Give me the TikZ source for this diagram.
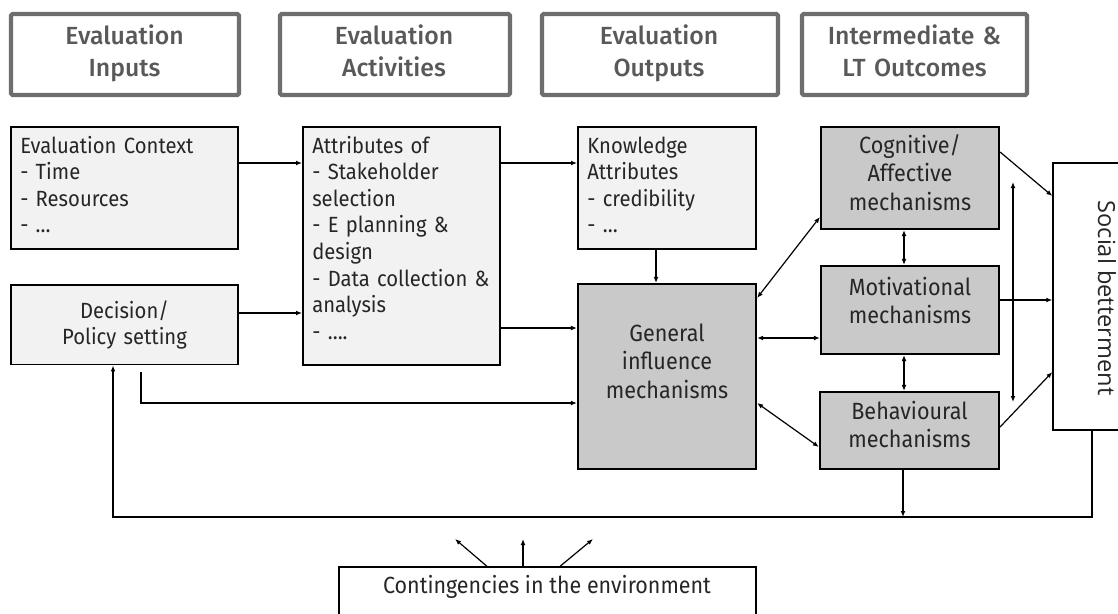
\documentclass[tikz,border=0pt]{standalone}
\usepackage{fontspec}
\setmainfont{Fira Sans}[FakeStretch=0.92]
\newfontfamily\hdrfont{Fira Sans Medium}
\newfontfamily\osfont{Open Sans}
\usetikzlibrary{arrows.meta,calc}
\definecolor{hdr}{HTML}{6E6E6E}
\definecolor{hdrtxt}{HTML}{595959}
\definecolor{lightfill}{HTML}{F2F2F2}
\definecolor{mechfill}{HTML}{C9C9C9}
\definecolor{txt}{HTML}{262626}
\begin{document}
\begin{tikzpicture}[x=0.75pt,y=-0.75pt,
  hdrbox/.style={draw=hdr, line width=3.2pt, rounded corners=1.2pt, fill=white, minimum height=60.75pt, inner sep=0pt},
  hdrtext/.style={anchor=base, inner sep=0pt, text width=165pt, align=center, text=hdrtxt, font=\hdrfont\fontsize{18.6}{24}\selectfont},
  lbox/.style={draw=black, line width=1.4pt, fill=lightfill, inner sep=0pt},
  mbox/.style={draw=black, line width=1.6pt, fill=mechfill, inner sep=0pt},
  btext/.style={anchor=base west, inner sep=0pt, align=left, text=txt, font=\fontsize{16.5}{19.95}\selectfont},
  ctext/.style={anchor=base, inner sep=0pt, align=center, text=txt, font=\fontsize{16.5}{19.95}\selectfont},
  mtext/.style={anchor=base, inner sep=0pt, align=center, text width=125pt, text=txt, font=\fontsize{17.6}{21.4}\selectfont},
  arr/.style={-{Latex[length=4.5pt,width=3.6pt]}, line width=0.9pt},
  darr/.style={{Latex[length=4.5pt,width=3.6pt]}-{Latex[length=4.5pt,width=3.6pt]}, line width=0.9pt},
  plainbox/.style={draw=black, line width=1pt, fill=white, inner sep=0pt}
]
\useasboundingbox (0,0) rectangle (1118,614);

% headers
\node[hdrbox, minimum width=171pt]   (h1) at (125,54.5) {};
\node[hdrbox, minimum width=172.5pt] (h2) at (395,54.5) {};
\node[hdrbox, minimum width=177pt]   (h3) at (660,54.5) {};
\node[hdrbox, minimum width=168.75pt](h4) at (914.5,54.5) {};
\node[hdrtext] (h1t) at (124.6,45) {Evaluation\\Inputs};
\node[hdrtext] (h2t) at (394,45) {Evaluation\\Activities};
\node[hdrtext] (h3t) at (659,45) {Evaluation\\Outputs};
\node[hdrtext] (h4t) at (914.5,45) {Intermediate \&\\LT Outcomes};

% light boxes
\node[lbox, minimum width=170.25pt, minimum height=91.5pt] (ctx) at (124.5,188) {};
\node[lbox, minimum width=170.25pt, minimum height=59.6pt] (dec) at (124.5,324.75) {};
\node[lbox, minimum width=147.75pt, minimum height=178.5pt] (attr) at (401.5,246) {};
\node[lbox, minimum width=133.5pt, minimum height=91.5pt] (know) at (667,188) {};
\node[btext, text width=156pt] (ctxt) at (20,153) {Evaluation Context\\- Time\\- Resources\\- …};
\node[ctext, text width=150pt] (dect) at (124.5,318) {Decision/\\Policy setting};
\node[btext, text width=140pt] (attrt) at (312,153) {Attributes of\\- Stakeholder\\selection\\- E planning \&\\design\\- Data collection \&\\analysis\\- ….};
\node[btext, text width=124pt] (knowt) at (587,153) {Knowledge\\Attributes\\- credibility\\- …};

% mechanism boxes
\node[mbox, minimum width=133.5pt, minimum height=138.75pt] (gen) at (667,376.5) {};
\node[mbox, minimum width=133.5pt, minimum height=76.5pt] (cog) at (910,178) {};
\node[mbox, minimum width=133.5pt, minimum height=66pt] (mot) at (910,310) {};
\node[mbox, minimum width=134.25pt, minimum height=57.75pt] (beh) at (909.5,430.5) {};
\node[mtext] (gent) at (667,341) {General\\influence\\mechanisms};
\node[mtext] (cogt) at (910,153) {Cognitive/\\Affective\\mechanisms};
\node[mtext] (mott) at (910,295) {Motivational\\mechanisms};
\node[mtext] (beht) at (909.5,419) {Behavioural\\mechanisms};

% social betterment
\node[plainbox, minimum width=57.75pt, minimum height=200.25pt] (soc) at (1091.5,296.5) {};
\node[anchor=base, rotate=-90, inner sep=0pt, text=txt, font=\osfont\fontsize{17.7}{21}\selectfont] (soct) at (1098,298) {Social betterment};

% contingencies
\node[plainbox, minimum width=312.75pt, minimum height=62.25pt] (cont) at (547.5,608.5) {};
\node[ctext, font=\fontsize{17.5}{21}\selectfont] (contt) at (547,593) {Contingencies in the environment};

% coordinates
\coordinate (stub) at (141,372);
\coordinate (vtop) at (1013,182);
\coordinate (vbot) at (1013,402);
\coordinate (loopR) at (1092,517);
\coordinate (loopL) at (113,517);
\coordinate (loopB) at (903,517);
\coordinate (ca) at (455,539);
\coordinate (cb) at (523,539);
\coordinate (cc) at (593,539);

% connectors
\draw[arr] (ctx.east |- 0,163) -- (attr.west |- 0,163);
\draw[arr] (dec.east |- 0,313) -- (attr.west |- 0,313);
\draw[arr] (attr.east |- 0,163) -- (know.west |- 0,163);
\draw[arr] (attr.east |- 0,328) -- (gen.west |- 0,328);
\draw[arr] (know.south -| 656,0) -- (gen.north -| 656,0);
\draw[arr] (stub) -- (stub |- 0,403) -- (gen.west |- 0,403);
\draw[darr] (gen.east |- 0,298) -- (cog.west |- 0,217);
\draw[darr] (gen.east |- 0,338) -- (mot.west |- 0,338);
\draw[darr] (gen.east |- 0,403) -- (beh.west |- 0,447);
\draw[darr] (cog.south -| 904,0) -- (mot.north -| 904,0);
\draw[darr] (mot.south -| 904,0) -- (beh.north -| 904,0);
\draw[arr] (cog.east |- 0,152) -- (soc.west |- 0,196);
\draw[arr] (mot.east |- 0,300) -- (soc.west |- 0,300);
\draw[arr] (beh.east |- 0,427) -- (soc.west |- 0,372);
\draw[darr] (vtop) -- (vbot);
\draw[arr] (soc.south -| loopR) -- (loopR) -- (loopL) -- (dec.south -| loopL);
\draw[arr] (beh.south -| loopB) -- (loopB);
\draw[arr] (cont.north -| 487,0) -- (ca);
\draw[arr] (cont.north -| cb) -- (cb);
\draw[arr] (cont.north -| 560,0) -- (cc);
\end{tikzpicture}
\end{document}
